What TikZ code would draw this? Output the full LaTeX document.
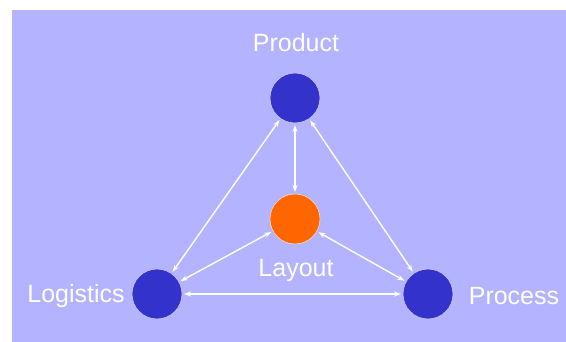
\documentclass[tikz,border=0pt]{standalone}
\usepackage{fontspec}
\setmainfont{Liberation Sans}
\usetikzlibrary{arrows.meta}

\definecolor{bgpurple}{HTML}{B3B3FF}
\definecolor{hubblue}{HTML}{3333CC}
\definecolor{layorange}{HTML}{FF6600}

\begin{document}
\begin{tikzpicture}[
    x=1pt, y=-1pt,
    every node/.style={font=\fontsize{25}{29}\selectfont, text=white},
    hub/.style={circle, draw=white!75!hubblue, line width=0.6pt, fill=hubblue, minimum size=50pt, inner sep=0pt, outer sep=2pt},
    link/.style={white, line width=1.4pt, {Stealth[length=7pt,width=5pt]}-{Stealth[length=7pt,width=5pt]}}
]
\useasboundingbox (0,0) rectangle (566,342);
\fill[bgpurple] (12,10) rectangle (566,342);

\node (product) [hub] at (295,98) {};
\node (layout) [hub, fill=layorange, draw=white!75!layorange] at (295,219) {};
\node (logistics) [hub] at (157,294) {};
\node (process) [hub] at (428,294) {};

\node (productlbl) at (296,43) {Product};
\node (layoutlbl) at (296,270) {Layout};
\node (logisticslbl) at (76,296) {Logistics};
\node (processlbl) at (514,296) {Process};

\draw [link] (product) -- (layout);
\draw [link] (product) -- (logistics);
\draw [link] (product) -- (process);
\draw [link] (layout) -- (logistics);
\draw [link] (layout) -- (process);
\draw [link] (logistics) -- (process);

\end{tikzpicture}
\end{document}
